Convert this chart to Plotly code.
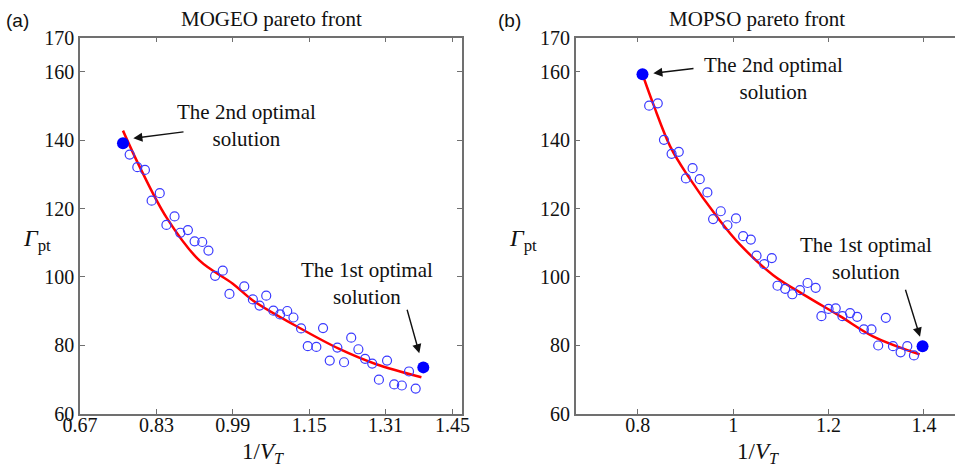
import plotly.graph_objects as go

W, H = 955, 472

# ---------------- data: MOGEO (a) ----------------
mogeo_x = [0.774, 0.790, 0.806, 0.837, 0.820, 0.868, 0.851, 0.896, 0.880, 0.910,
           0.926, 0.939, 0.969, 0.953, 1.014, 0.983, 1.032, 1.060, 1.046, 1.075,
           1.089, 1.104, 1.117, 1.133, 1.179, 1.147, 1.165, 1.209, 1.238, 1.253,
           1.193, 1.223, 1.267, 1.282, 1.313, 1.296, 1.328, 1.344, 1.359, 1.373]
mogeo_y = [135.8, 132.1, 131.3, 124.5, 122.3, 117.7, 115.2, 113.7, 112.9, 110.4,
           110.2, 107.7, 101.8, 100.3, 97.2, 95.0, 93.4, 94.5, 91.6, 90.1,
           89.0, 90.0, 88.1, 84.9, 85.0, 79.7, 79.5, 79.3, 82.2, 78.8,
           75.5, 75.0, 76.0, 74.6, 75.5, 69.9, 68.5, 68.2, 72.3, 67.3]
mogeo_opt_x = [1.389, 0.760]
mogeo_opt_y = [73.5, 139.1]
mogeo_fit_x = [0.760, 0.795, 0.851, 0.920, 0.990, 1.032, 1.133, 1.213, 1.289, 1.385]
mogeo_fit_y = [142.8, 132.2, 117.4, 104.8, 98.0, 93.1, 84.8, 78.9, 74.5, 70.6]

# ---------------- data: MOPSO (b) ----------------
mopso_x = [0.824, 0.842, 0.855, 0.871, 0.886, 0.915, 0.901, 0.930, 0.946, 0.974,
           0.958, 1.006, 0.988, 1.021, 1.037, 1.049, 1.081, 1.065, 1.093, 1.109,
           1.124, 1.140, 1.156, 1.173, 1.185, 1.200, 1.215, 1.229, 1.245, 1.260,
           1.320, 1.274, 1.290, 1.304, 1.335, 1.351, 1.365, 1.379]
mopso_y = [150.1, 150.8, 140.1, 136.0, 136.6, 131.8, 128.8, 128.6, 124.7, 119.2,
           116.9, 117.1, 115.1, 111.9, 110.9, 106.2, 105.5, 103.7, 97.4, 96.5,
           94.9, 96.1, 98.2, 96.8, 88.5, 90.6, 90.8, 88.5, 89.4, 88.3,
           88.0, 84.6, 84.6, 79.9, 79.7, 77.9, 79.7, 77.0]
mopso_opt_x = [1.397, 0.810]
mopso_opt_y = [79.7, 159.3]
mopso_fit_x = [0.812, 0.833, 0.868, 0.903, 0.972, 1.014, 1.084, 1.154, 1.224, 1.293, 1.391]
mopso_fit_y = [158.5, 150.4, 138.2, 130.0, 116.5, 109.5, 100.5, 94.3, 88.5, 82.6, 77.3]

yticks = [60, 80, 100, 120, 140, 160, 170]
xticks_a = [0.67, 0.83, 0.99, 1.15, 1.31, 1.45]
xticks_b = [0.8, 1.0, 1.2, 1.4]
xticklabels_b = ["0.8", "1", "1.2", "1.4"]

titles = ["MOGEO pareto front", "MOPSO pareto front"]
panel_tags = ["(a)", "(b)"]

SERIF = "Liberation Serif, Times New Roman, serif"
SANS = "Liberation Sans, Arial, sans-serif"
AX_COL = "#707070"
PT_COL = "#3a3aff"

fig = go.Figure()


def add_panel(xs, ys, ox, oy, fx, fy, xa, ya):
    fig.add_trace(go.Scatter(x=fx, y=fy, mode="lines", xaxis=xa, yaxis=ya,
                             line=dict(color="#ff0000", width=2.5, shape="spline", smoothing=1.0),
                             showlegend=False, hoverinfo="skip"))
    fig.add_trace(go.Scatter(x=xs, y=ys, mode="markers", xaxis=xa, yaxis=ya,
                             marker=dict(symbol="circle-open", size=9, color=PT_COL,
                                         line=dict(width=1.2, color=PT_COL)),
                             showlegend=False))
    fig.add_trace(go.Scatter(x=ox, y=oy, mode="markers", xaxis=xa, yaxis=ya,
                             marker=dict(symbol="circle", size=12, color="#0000ff"),
                             showlegend=False))


add_panel(mogeo_x, mogeo_y, mogeo_opt_x, mogeo_opt_y, mogeo_fit_x, mogeo_fit_y, "x", "y")
add_panel(mopso_x, mopso_y, mopso_opt_x, mopso_opt_y, mopso_fit_x, mopso_fit_y, "x2", "y2")

ydom = [1 - 413.5 / H, 1 - 37.7 / H]
axis_common = dict(showgrid=False, zeroline=False, showline=True, linecolor=AX_COL, linewidth=1.5,
                   ticks="inside", ticklen=5, tickcolor=AX_COL, tickwidth=1, automargin=False,
                   tickfont=dict(family=SERIF, size=20, color="#111"))

fig.update_layout(
    template="none",
    width=W, height=H, margin=dict(l=0, r=0, t=0, b=0, pad=0, autoexpand=False),
    paper_bgcolor="white", plot_bgcolor="white",
    xaxis=dict(domain=[80 / W, 462 / W], range=[0.67, 1.47], tickvals=xticks_a,
               ticktext=[f"{v:.2f}" for v in xticks_a], mirror="ticks", anchor="y",
               ticklabelstandoff=-7, **axis_common),
    yaxis=dict(domain=ydom, range=[60, 170], tickvals=yticks, mirror="ticks", anchor="x",
               ticklabelstandoff=0, **axis_common),
    xaxis2=dict(domain=[575.7 / W, 1.0], range=[0.67, 1.465], tickvals=xticks_b,
                ticktext=xticklabels_b, mirror="ticks", anchor="y2",
                ticklabelstandoff=-7, **axis_common),
    yaxis2=dict(domain=ydom, range=[60, 170], tickvals=yticks, mirror=False, anchor="x2",
                ticklabelstandoff=0, **axis_common),
)


def px(x):
    return x / W


def py(y):
    return 1 - y / H


ann = []
# titles and panel tags
for cx, t in zip([271.5, 757], titles):
    ann.append(dict(x=px(cx), y=py(19), xref="paper", yref="paper", text=t, showarrow=False,
                    font=dict(family=SERIF, size=21, color="#111"), xanchor="center", yanchor="middle"))
for lx, t in zip([4, 496], panel_tags):
    ann.append(dict(x=px(lx), y=py(20), xref="paper", yref="paper", text=t, showarrow=False,
                    font=dict(family=SANS, size=19, color="#111"), xanchor="left", yanchor="middle"))
# axis titles
for cx in [263, 758]:
    ann.append(dict(x=px(cx), y=py(453), xref="paper", yref="paper",
                    text="1/<i>V</i><sub><i>T</i></sub>", showarrow=False,
                    font=dict(family=SERIF, size=23, color="#111"), xanchor="center", yanchor="middle"))
for cx in [37, 523]:
    ann.append(dict(x=px(cx), y=py(240), xref="paper", yref="paper",
                    text="<i>Γ</i><sub>pt</sub>", showarrow=False,
                    font=dict(family=SERIF, size=24, color="#111"), xanchor="center", yanchor="middle"))
# optimal-solution labels
labels = [(175, 112, "The 2nd optimal<br>solution"),
          (299, 270, "The 1st optimal<br>solution"),
          (702, 65, "The 2nd optimal<br>solution"),
          (798, 245, "The 1st optimal<br>solution")]
for lx, ly, t in labels:
    ann.append(dict(x=px(lx), y=py(ly + 13.5), xref="paper", yref="paper", text=t, showarrow=False,
                    align="center", font=dict(family=SERIF, size=21, color="#111"),
                    xanchor="left", yanchor="middle"))
# arrows (head, tail) in pixels
arrows = [((133.3, 138.3), (185, 131.7)),
          ((419.3, 353.3), (406.7, 308.3)),
          ((653.3, 73.3), (695, 68.3)),
          ((920, 336.7), (905, 288.3))]
for (hx, hy), (tx, ty) in arrows:
    ann.append(dict(x=px(hx), y=py(hy), xref="paper", yref="paper", text="", showarrow=True,
                    ax=tx - hx, ay=ty - hy, arrowhead=2, arrowsize=1.3, arrowwidth=1.4,
                    arrowcolor="#111"))
fig.update_layout(annotations=ann)

fig.write_html("out.html")
